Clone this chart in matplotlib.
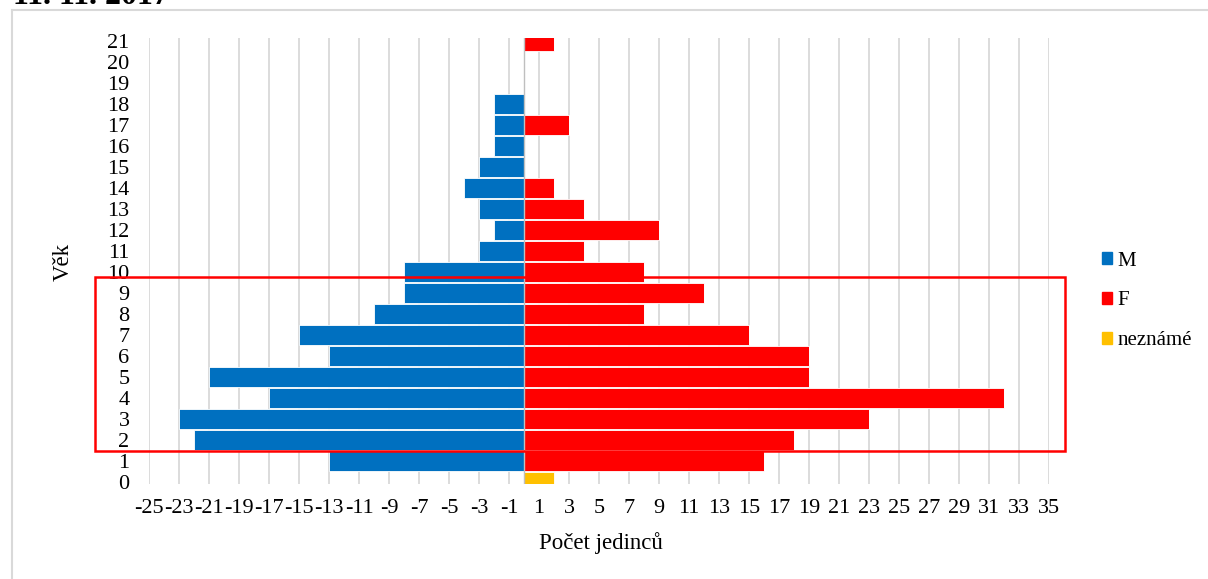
import matplotlib
matplotlib.use('Agg')
import matplotlib.pyplot as plt
from matplotlib.patches import Patch, Rectangle
from matplotlib.lines import Line2D

plt.rcParams['font.family'] = ['Liberation Serif', 'DejaVu Serif']
plt.rcParams['font.size'] = 16

# věkové kategorie a počty jedinců
ages = list(range(22))
muzi = [0, 13, 22, 23, 17, 21, 13, 15, 10, 8, 8, 3, 2, 3, 4, 3, 2, 2, 2, 0, 0, 0]
zeny = [0, 16, 18, 23, 32, 19, 19, 15, 8, 12, 8, 4, 9, 4, 2, 0, 0, 3, 0, 0, 0, 2]
nezname = [2, 0, 0, 0, 0, 0, 0, 0, 0, 0, 0, 0, 0, 0, 0, 0, 0, 0, 0, 0, 0, 0]
xticks = list(range(-25, 36, 2))

W, H = 1208, 579
fig = plt.figure(figsize=(W / 100, H / 100), dpi=100)
ax = fig.add_axes([149 / W, 1 - 484 / H, 900 / W, 446 / H])

bh = 0.92
ax.barh(ages, [-m for m in muzi], height=bh, color='#0070C0',
        edgecolor='#ffffff', linewidth=0.6, label='M')
ax.barh(ages, zeny, height=bh, color='#FF0000',
        edgecolor='#ffffff', linewidth=0.6, label='F')
ax.barh(ages, nezname, left=zeny, height=bh, color='#FFC000',
        edgecolor='#ffffff', linewidth=0.6, label='neznámé')

ax.set_xlim(-25, 35)
ax.set_ylim(-0.1, 21.15)
ax.set_xticks(xticks)
ax.set_xticklabels([str(t) for t in xticks])
ax.set_yticks(ages)
ax.tick_params(axis='x', length=0, pad=11)
ax.tick_params(axis='y', length=0, pad=14)
ax.xaxis.grid(True, color='#d9d9d9', linewidth=1.3)
ax.set_axisbelow(True)
ax.axvline(0, color='#bfbfbf', linewidth=1, zorder=3)
for s in ax.spines.values():
    s.set_visible(False)

fig.text(63 / W, 1 - 262 / H, 'Věk', rotation=90, ha='center', va='center',
         fontsize=16.5)
fig.text(601 / W, 1 - 543 / H, 'Počet jedinců', ha='center', va='center',
         fontsize=16.5)

handles = [Patch(color='#0070C0', label='M'),
           Patch(color='#FF0000', label='F'),
           Patch(color='#FFC000', label='neznámé')]
fig.legend(handles=handles, loc='center left',
           bbox_to_anchor=(1102 / W, 1 - 301 / H), frameon=False,
           fontsize=15, handlelength=0.5, handleheight=0.5,
           handletextpad=0.25, labelspacing=1.0, borderaxespad=0,
           borderpad=0)

# orámování grafu
fig.add_artist(Line2D([12 / W, 1], [1 - 10 / H, 1 - 10 / H],
                      color='#d9d9d9', linewidth=1.5))
fig.add_artist(Line2D([12 / W, 12 / W], [0, 1 - 10 / H],
                      color='#d9d9d9', linewidth=1.5))

# zvýrazněné věkové skupiny 2-9
fig.add_artist(Rectangle((95 / W, 1 - 451 / H), 970 / W, 174 / H,
                         fill=False, edgecolor='#FF0000', linewidth=1.8))

fig.text(13 / W, 1 - 4 / H, '11. 11. 2017', fontsize=23, fontweight='bold',
         va='baseline', ha='left')

fig.savefig('out.png', dpi=100)
